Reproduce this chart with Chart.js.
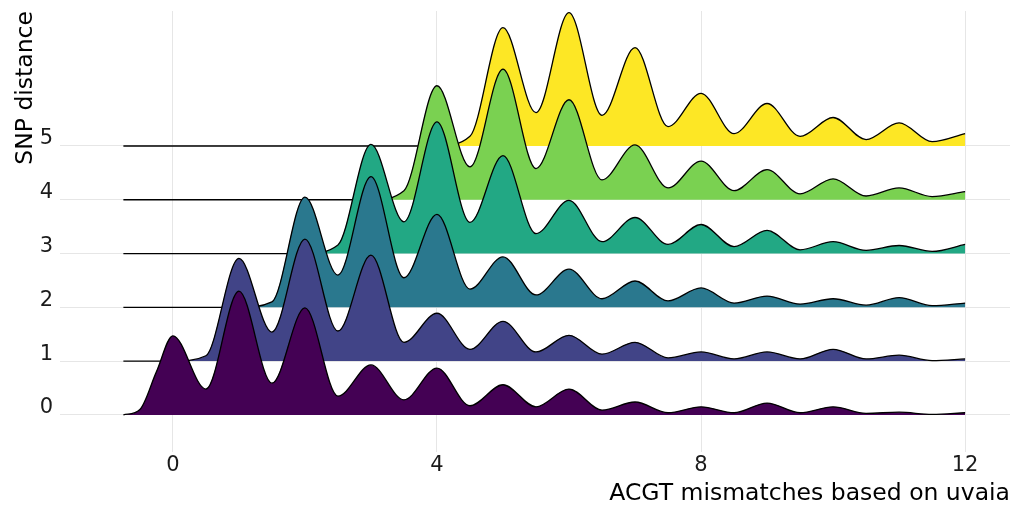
<!DOCTYPE html>
<html>
<head>
<meta charset="utf-8">
<script src="https://cdn.jsdelivr.net/npm/chart.js@4.4.1/dist/chart.umd.min.js"></script>
<style>
html,body{margin:0;padding:0;background:#ffffff;}
#wrap{width:1021px;height:506px;}
</style>
</head>
<body>
<div id="wrap"><canvas id="c" width="1021" height="506"></canvas></div>
<script>
// x positions of the density knots (ACGT mismatches)
const xKnots = [-0.75, -0.5, -0.25, 0, 0.5, 1, 1.5, 2, 2.5, 3, 3.5, 4, 4.5, 5, 5.5, 6, 6.5, 7, 7.5, 8, 8.5, 9, 9.5, 10, 10.5, 11, 11.5, 12];

// ridge heights (in y units above each ridge's baseline), one array per SNP distance
const snp0 = [0, 0.10, 0.80, 1.47, 0.48, 2.30, 0.59, 1.99, 0.35, 0.93, 0.28, 0.87, 0.17, 0.56, 0.15, 0.48, 0.09, 0.24, 0.04, 0.15, 0.04, 0.22, 0.04, 0.15, 0.03, 0.05, 0.01, 0.04];
const snp1 = [0, 0, 0, 0, 0.10, 1.91, 0.54, 2.27, 0.56, 1.97, 0.35, 0.89, 0.22, 0.74, 0.17, 0.48, 0.13, 0.35, 0.06, 0.17, 0.04, 0.17, 0.04, 0.22, 0.04, 0.11, 0.01, 0.04];
const snp2 = [0, 0, 0, 0, 0, 0, 0.10, 2.05, 0.60, 2.43, 0.55, 1.73, 0.34, 0.94, 0.23, 0.71, 0.16, 0.49, 0.12, 0.36, 0.08, 0.21, 0.06, 0.16, 0.04, 0.18, 0.03, 0.08];
const snp3 = [0, 0, 0, 0, 0, 0, 0, 0, 0.16, 2.03, 0.59, 2.45, 0.58, 1.82, 0.37, 0.99, 0.22, 0.67, 0.17, 0.54, 0.13, 0.43, 0.07, 0.22, 0.06, 0.15, 0.04, 0.17];
const snp4 = [0, 0, 0, 0, 0, 0, 0, 0, 0, 0, 0.17, 2.12, 0.61, 2.43, 0.58, 1.86, 0.37, 1.02, 0.22, 0.72, 0.17, 0.56, 0.11, 0.39, 0.07, 0.22, 0.06, 0.15];
const snp5 = [0, 0, 0, 0, 0, 0, 0, 0, 0, 0, 0, 0, 0.18, 2.20, 0.62, 2.48, 0.57, 1.83, 0.36, 0.98, 0.23, 0.79, 0.18, 0.53, 0.12, 0.43, 0.08, 0.23];

const snpLevels = [0, 1, 2, 3, 4, 5];
const ridgeColors = ['#440154', '#414487', '#2A788E', '#22A884', '#7AD151', '#FDE725'];
const xTicks = [0, 4, 8, 12];
const yTicks = [0, 1, 2, 3, 4, 5];

const allSeries = [snp0, snp1, snp2, snp3, snp4, snp5];

const datasets = allSeries.map((h, i) => ({
  label: String(snpLevels[i]),
  data: xKnots.map((x, j) => ({ x: x, y: snpLevels[i] + h[j] })),
  borderColor: '#000000',
  borderWidth: 1.3,
  backgroundColor: ridgeColors[i],
  fill: { value: snpLevels[i] },
  pointRadius: 0,
  cubicInterpolationMode: 'monotone'
}));

const FONT = '"DejaVu Sans", sans-serif';

new Chart(document.getElementById('c'), {
  type: 'line',
  data: { datasets },
  options: {
    responsive: false,
    devicePixelRatio: 1,
    animation: false,
    layout: { padding: { top: 11, right: 11, left: 0, bottom: 0 } },
    plugins: { legend: { display: false }, tooltip: { enabled: false } },
    scales: {
      x: {
        type: 'linear',
        min: -1.71,
        max: 12.68,
        afterBuildTicks: s => { s.ticks = xTicks.map(v => ({ value: v })); },
        afterFit: s => { s.height = 54; s.paddingLeft = 0; s.paddingRight = 0; },
        grid: { color: '#e6e6e6', lineWidth: 1, drawTicks: false },
        border: { display: false },
        ticks: { font: { family: FONT, size: 21 }, color: '#1a1a1a', padding: 1, maxRotation: 0 },
        title: { display: true, text: 'ACGT mismatches based on uvaia', align: 'end',
                 font: { family: FONT, size: 23.5, lineHeight: 1 }, color: '#000000', padding: { top: 0, bottom: 0 } }
      },
      y: {
        type: 'linear',
        min: -0.69,
        max: 7.51,
        afterBuildTicks: s => { s.ticks = yTicks.map(v => ({ value: v })); },
        afterFit: s => { s.width = 60; s.paddingTop = 0; s.paddingBottom = 0; },
        grid: { color: '#e6e6e6', lineWidth: 1, drawTicks: false },
        border: { display: false },
        ticks: { font: { family: FONT, size: 21 }, color: '#1a1a1a', padding: 7, labelOffset: -7,
                 callback: v => String(v) },
        title: { display: true, text: 'SNP distance', align: 'end',
                 font: { family: FONT, size: 23.5 }, color: '#000000', padding: { top: 12, bottom: 0 } }
      }
    }
  }
});
</script>
</body>
</html>
